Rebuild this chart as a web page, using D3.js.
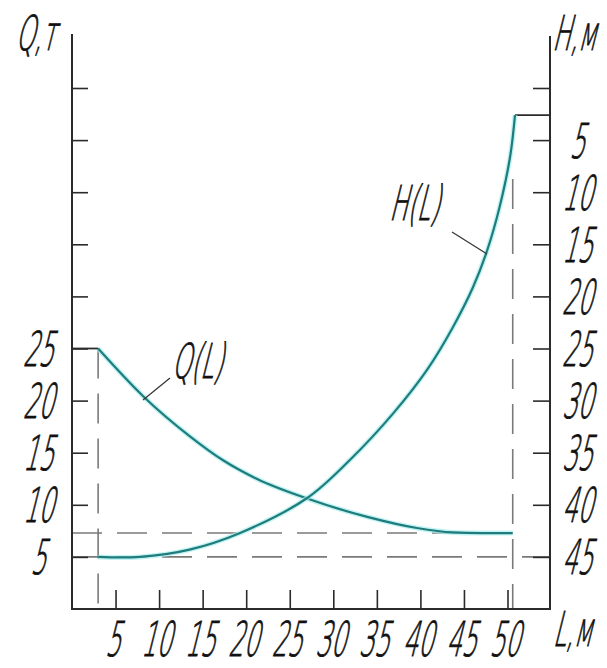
<!DOCTYPE html>
<html><head><meta charset="utf-8">
<script src="https://cdn.jsdelivr.net/npm/d3@7/dist/d3.min.js"></script>
<style>html,body{margin:0;padding:0;background:#fff;}svg{display:block;}</style>
</head><body>
<script>
// Data
const qL = [3, 8.2, 13.5, 17.3, 21.2, 27, 33.9, 39.6, 43.7, 47, 50.6];
const qV = [25, 20.4, 16.6, 14.3, 12.5, 10.6, 8.84, 7.77, 7.35, 7.29, 7.29];
const hL = [3, 7.8, 13.5, 19.3, 27, 31.9, 36.9, 40.8, 43.7, 46.0, 47.7, 49.1, 50.3, 50.86];
const hV = [45, 45, 44.3, 42.7, 39.35, 35.7, 31.2, 27.0, 23.0, 19.2, 15.5, 11.4, 6.6, 2.6];
const lTicks = [5,10,15,20,25,30,35,40,45,50];
const qTicks = [5,10,15,20,25,30,35,40,45,50];
const qLabels = [5,10,15,20,25];
const hTicks = [0,5,10,15,20,25,30,35,40,45];
const hLabels = [5,10,15,20,25,30,35,40,45];
const qStart = {L:3, Q:25};
const qEnd = 7.29;
const hEndL = 50.6, hTop = 2.6;

const W = 607, H = 668;
const svg = d3.select("body").append("svg").attr("width", W).attr("height", H);

const x = d3.scaleLinear().domain([0,50]).range([72, 507.5]);
const yQ = d3.scaleLinear().domain([0,50]).range([609, 88]);
const yH = d3.scaleLinear().domain([0,50]).range([88, 609]);
const xMax = 550;

const axisCol = "#2b2b2b", dashCol = "#7a7a7a";
const curveCol = "#207c7c", haloCol = "#a8eeee";

// dashed guide lines
const dash = "30,15";
svg.append("line").attr("x1", x(0)).attr("x2", xMax).attr("y1", yQ(5)).attr("y2", yQ(5))
  .attr("stroke", dashCol).attr("stroke-width", 1.6).attr("stroke-dasharray", dash);
svg.append("line").attr("x1", x(0)).attr("x2", x(hEndL)).attr("y1", yQ(qEnd)).attr("y2", yQ(qEnd))
  .attr("stroke", dashCol).attr("stroke-width", 1.6).attr("stroke-dasharray", dash);
svg.append("line").attr("x1", x(qStart.L)).attr("x2", x(qStart.L)).attr("y1", yQ(qStart.Q)).attr("y2", yQ(0))
  .attr("stroke", dashCol).attr("stroke-width", 1.6).attr("stroke-dasharray", dash);
svg.append("line").attr("x1", x(hEndL)).attr("x2", x(hEndL)).attr("y1", yH(hTop)+64).attr("y2", yQ(0))
  .attr("stroke", dashCol).attr("stroke-width", 1.6).attr("stroke-dasharray", dash);

// axes frames
svg.append("line").attr("x1", 72).attr("x2", 72).attr("y1", 34).attr("y2", 610).attr("stroke", axisCol).attr("stroke-width", 2);
svg.append("line").attr("x1", xMax).attr("x2", xMax).attr("y1", 36).attr("y2", 610).attr("stroke", axisCol).attr("stroke-width", 2);
svg.append("line").attr("x1", 71).attr("x2", xMax+1).attr("y1", 609).attr("y2", 609).attr("stroke", axisCol).attr("stroke-width", 2);

function styleAxis(g){
  g.select(".domain").remove();
  g.selectAll(".tick line").attr("stroke", axisCol).attr("stroke-width", 1.6);
  g.selectAll(".tick text").remove();
}
svg.append("g").attr("transform","translate(72,0)")
  .call(d3.axisRight(yQ).tickValues(qTicks).tickSize(16).tickFormat("")).call(styleAxis);
svg.append("g").attr("transform",`translate(${xMax},0)`)
  .call(d3.axisLeft(yH).tickValues(hTicks).tickSize(17).tickFormat("")).call(styleAxis);
svg.append("g").attr("transform","translate(0,609)")
  .call(d3.axisTop(x).tickValues(lTicks).tickSize(19).tickFormat("")).call(styleAxis);

// solid connectors
svg.append("line").attr("x1", 72).attr("x2", x(qStart.L)).attr("y1", yQ(qStart.Q)).attr("y2", yQ(qStart.Q))
  .attr("stroke", axisCol).attr("stroke-width", 1.8);
svg.append("line").attr("x1", x(hL[hL.length-1])).attr("x2", xMax).attr("y1", yH(hTop)).attr("y2", yH(hTop))
  .attr("stroke", axisCol).attr("stroke-width", 1.8);

// curves
const qData = qL.map((l,i)=>[l,qV[i]]);
const hData = hL.map((l,i)=>[l,hV[i]]);
const lineQ = d3.line().x(d=>x(d[0])).y(d=>yQ(d[1])).curve(d3.curveMonotoneX);
const lineH = d3.line().x(d=>x(d[0])).y(d=>yH(d[1])).curve(d3.curveCatmullRom.alpha(0.5));
[[qData,lineQ],[hData,lineH]].forEach(([d,ln])=>{
  svg.append("path").attr("d", ln(d)).attr("fill","none").attr("stroke", haloCol).attr("stroke-width", 5).attr("opacity",0.7);
  svg.append("path").attr("d", ln(d)).attr("fill","none").attr("stroke", curveCol).attr("stroke-width", 2.2);
});

// leader lines
svg.append("line").attr("x1",170).attr("y1",378).attr("x2",143).attr("y2",400).attr("stroke","#333").attr("stroke-width",1.2);
svg.append("line").attr("x1",452).attr("y1",232).attr("x2",487).attr("y2",254).attr("stroke","#333").attr("stroke-width",1.2);

// text helper: GOST-like narrow italic
function label(px, py, txt, anchor){
  const g = svg.append("g").attr("transform", `translate(${px},${py}) skewX(-14) scale(0.5,1)`);
  g.append("text").text(txt).attr("text-anchor", anchor || "middle")
    .attr("font-family","DejaVu Sans").attr("font-weight",200).attr("font-size",48)
    .attr("fill","#111").attr("stroke","#111").attr("stroke-width",0.9);
}
qLabels.forEach(v=>label(38, yQ(v)+17.5, String(v)));
hLabels.forEach(v=>label(577, yH(v)+17.5, String(v)));
lTicks.forEach(v=>label(x(v)-3, 656, String(v)));

label(35, 50, "Q,т");
label(574, 50, "H,м");
label(572, 646, "L,м");
label(197, 378, "Q(L)");
label(414, 220, "H(L)");
</script>
</body></html>
